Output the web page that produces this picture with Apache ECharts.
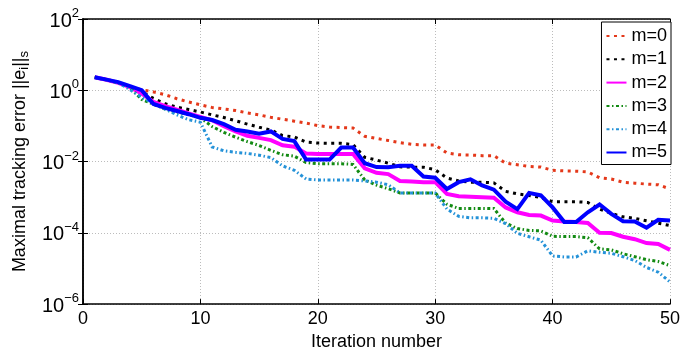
<!DOCTYPE html>
<html>
<head>
<meta charset="utf-8">
<script src="https://cdn.jsdelivr.net/npm/echarts@6/dist/echarts.min.js"></script>
<style>
html,body{margin:0;padding:0;background:#fff;}
#chart{width:683px;height:356px;}
</style>
</head>
<body>
<div id="chart"></div>
<script>
const iterations = [1,2,3,4,5,6,7,8,9,10,11,12,13,14,15,16,17,18,19,20,21,22,23,24,25,26,27,28,29,30,31,32,33,34,35,36,37,38,39,40,41,42,43,44,45,46,47,48,49,50];
const seriesNames = ['m=0','m=1','m=2','m=3','m=4','m=5'];
const m0 = [2.31,2.02,1.62,1.26,1.02,0.90,0.75,0.58,0.47,0.39,0.33,0.30,0.27,0.231,0.204,0.174,0.154,0.136,0.120,0.102,0.093,0.090,0.0875,0.051,0.0444,0.039,0.034,0.0305,0.0292,0.0292,0.0174,0.0155,0.0153,0.0146,0.0146,0.0090,0.0081,0.0073,0.0070,0.0057,0.00546,0.00537,0.0051,0.00352,0.00324,0.00263,0.00248,0.00233,0.00223,0.0017];
const m1 = [2.31,2.01,1.67,1.26,0.92,0.592,0.42,0.337,0.288,0.246,0.204,0.172,0.140,0.112,0.0919,0.077,0.0536,0.0491,0.0352,0.033,0.0324,0.0324,0.030,0.01315,0.0110,0.0090,0.0071,0.00697,0.00697,0.00589,0.00345,0.00286,0.00264,0.00264,0.00252,0.00146,0.00124,0.00112,0.00097,0.00075,0.00075,0.00075,0.00071,0.000464,0.00035,0.000281,0.000255,0.000218,0.000187,0.00016];
const m2 = [2.31,1.975,1.616,1.218,0.81,0.475,0.3585,0.284,0.224,0.18,0.144,0.099,0.0701,0.0529,0.0461,0.0399,0.0286,0.0262,0.0169,0.01626,0.01626,0.01626,0.01626,0.00647,0.00482,0.00444,0.00286,0.00274,0.00264,0.00264,0.00124,0.00107,0.00103,0.001,0.000966,0.000516,0.000377,0.000318,0.000305,0.000222,0.000209,0.000201,0.000189,0.000101,0.0000985,0.0000776,0.0000663,0.0000515,0.0000484,0.0000333];
const m3 = [2.31,1.975,1.616,1.181,0.556,0.406,0.297,0.246,0.21,0.169,0.096,0.0659,0.0482,0.0363,0.0282,0.0206,0.01556,0.01416,0.00942,0.00869,0.00869,0.00869,0.00832,0.00305,0.00218,0.00173,0.00132,0.00132,0.00132,0.00132,0.000634,0.000484,0.000484,0.000484,0.000479,0.000187,0.000132,0.0001167,0.000113,0.00008,0.0000785,0.0000785,0.0000728,0.0000354,0.0000333,0.0000259,0.0000214,0.0000177,0.0000157,0.000012];
const m4 = [2.31,1.975,1.616,1.04,0.63,0.433,0.297,0.204,0.149,0.127,0.0257,0.02,0.0182,0.0169,0.01508,0.0129,0.00757,0.0057,0.00324,0.00305,0.00305,0.00305,0.00305,0.00286,0.00264,0.00223,0.00132,0.00132,0.00132,0.00132,0.000464,0.00029,0.000264,0.000264,0.000255,0.000181,0.0000966,0.0000776,0.0000622,0.0000224,0.000021,0.000021,0.0000313,0.0000284,0.0000267,0.0000214,0.0000167,0.0000107,0.00000785,0.0000042];
const m5 = [2.31,1.99,1.69,1.31,1.01,0.414,0.322,0.262,0.213,0.169,0.146,0.112,0.078,0.0701,0.0607,0.0701,0.0433,0.0375,0.01138,0.01138,0.01138,0.0246,0.0246,0.0090,0.0070,0.00689,0.00757,0.00757,0.00379,0.00352,0.0017,0.00264,0.00318,0.00213,0.00163,0.00075,0.000464,0.00132,0.00112,0.000516,0.000201,0.000201,0.000377,0.000622,0.000339,0.000212,0.000209,0.000139,0.000232,0.000222];
const xTicks = [0,10,20,30,40,50];
const yTickExponents = [-6,-4,-2,0,2];

const FONT = 'Liberation Sans';
const seriesValues = [m0,m1,m2,m3,m4,m5];
const styles = [
  {color:'#e4381a', width:3, type:[3,4.5]},
  {color:'#000000', width:3, type:[3,4.5]},
  {color:'#ff00ff', width:4, type:'solid'},
  {color:'#128a12', width:3, type:[3,2.5,1.5,2.5]},
  {color:'#2492d8', width:3, type:[3,2.5,1.5,2.5]},
  {color:'#0000ff', width:4, type:'solid'}
];

const chart = echarts.init(document.getElementById('chart'), null, {renderer:'canvas'});

const gridLine = {show:true, lineStyle:{color:'#bcbcbc', type:[1,2], width:1}};
const axisLineStyle = {show:true, lineStyle:{color:'#000', width:1.5}};

const option = {
  backgroundColor:'#ffffff',
  animation:false,
  textStyle:{fontFamily:FONT},
  grid:{left:83, right:13, top:19, bottom:43, containLabel:false},
  legend:{
    orient:'vertical', right:12, top:22,
    data:seriesNames,
    itemWidth:20, itemHeight:14, itemGap:3.3,
    padding:[4,4,2,4],
    borderColor:'#000', borderWidth:1, backgroundColor:'#fff',
    itemStyle:{opacity:0},
    textStyle:{fontFamily:FONT, fontSize:18, color:'#000', lineHeight:20}
  },
  xAxis:[{
    type:'value', min:0, max:50, interval:10, position:'bottom',
    name:'Iteration number', nameLocation:'middle', nameGap:21,
    nameTextStyle:{fontFamily:FONT, fontSize:18, color:'#000', verticalAlign:'top'},
    axisLine:axisLineStyle,
    axisTick:{show:true, inside:true, length:5, lineStyle:{color:'#000', width:1}},
    axisLabel:{fontFamily:FONT, fontSize:18, color:'#000', margin:6,
      formatter:function(v){ return xTicks.indexOf(v) >= 0 ? String(v) : ''; }},
    splitLine:gridLine
  },{
    type:'value', min:0, max:50, interval:10, position:'top',
    axisLine:axisLineStyle,
    axisTick:{show:true, inside:true, length:5, lineStyle:{color:'#000', width:1}},
    axisLabel:{show:false}, splitLine:{show:false}
  }],
  yAxis:[{
    type:'log', logBase:10, min:1e-6, max:100, interval:2, position:'left',
    name:'Maximal tracking error ||e{sub|i}||{sub|s}', nameLocation:'middle', nameGap:48,
    nameTextStyle:{fontFamily:FONT, fontSize:18, color:'#000', lineHeight:22,
      rich:{sub:{fontFamily:FONT, fontSize:13, color:'#000', lineHeight:13, verticalAlign:'bottom'}}},
    axisLine:axisLineStyle,
    axisTick:{show:true, inside:true, length:5, lineStyle:{color:'#000', width:1}},
    axisLabel:{fontFamily:FONT, color:'#000', margin:4,
      formatter:function(v){
        const e = Math.round(Math.log10(v));
        if (yTickExponents.indexOf(e) < 0) return '';
        return '{b|10}{e|' + (e < 0 ? '\u2212' + (-e) : String(e)) + '}';
      },
      rich:{
        b:{fontFamily:FONT, fontSize:20, color:'#000', lineHeight:24, verticalAlign:'bottom'},
        e:{fontFamily:FONT, fontSize:13, color:'#000', lineHeight:13, verticalAlign:'top'}
      }
    },
    splitLine:gridLine, minorTick:{show:false}, minorSplitLine:{show:false}
  },{
    type:'log', logBase:10, min:1e-6, max:100, interval:2, position:'right',
    axisLine:axisLineStyle,
    axisTick:{show:true, inside:true, length:5, lineStyle:{color:'#000', width:1}},
    axisLabel:{show:false}, splitLine:{show:false}
  }],
  series: seriesNames.map(function(name, k){
    return {
      name:name, type:'line', xAxisIndex:0, yAxisIndex:0,
      data: iterations.map(function(it, j){ return [it, seriesValues[k][j]]; }),
      symbol:'none', showSymbol:false, smooth:false,
      lineStyle:{color:styles[k].color, width:styles[k].width, type:styles[k].type, cap:'butt', join:'miter'},
      itemStyle:{color:styles[k].color},
      emphasis:{disabled:true}, z:2+k
    };
  })
};
chart.setOption(option);
</script>
</body>
</html>
